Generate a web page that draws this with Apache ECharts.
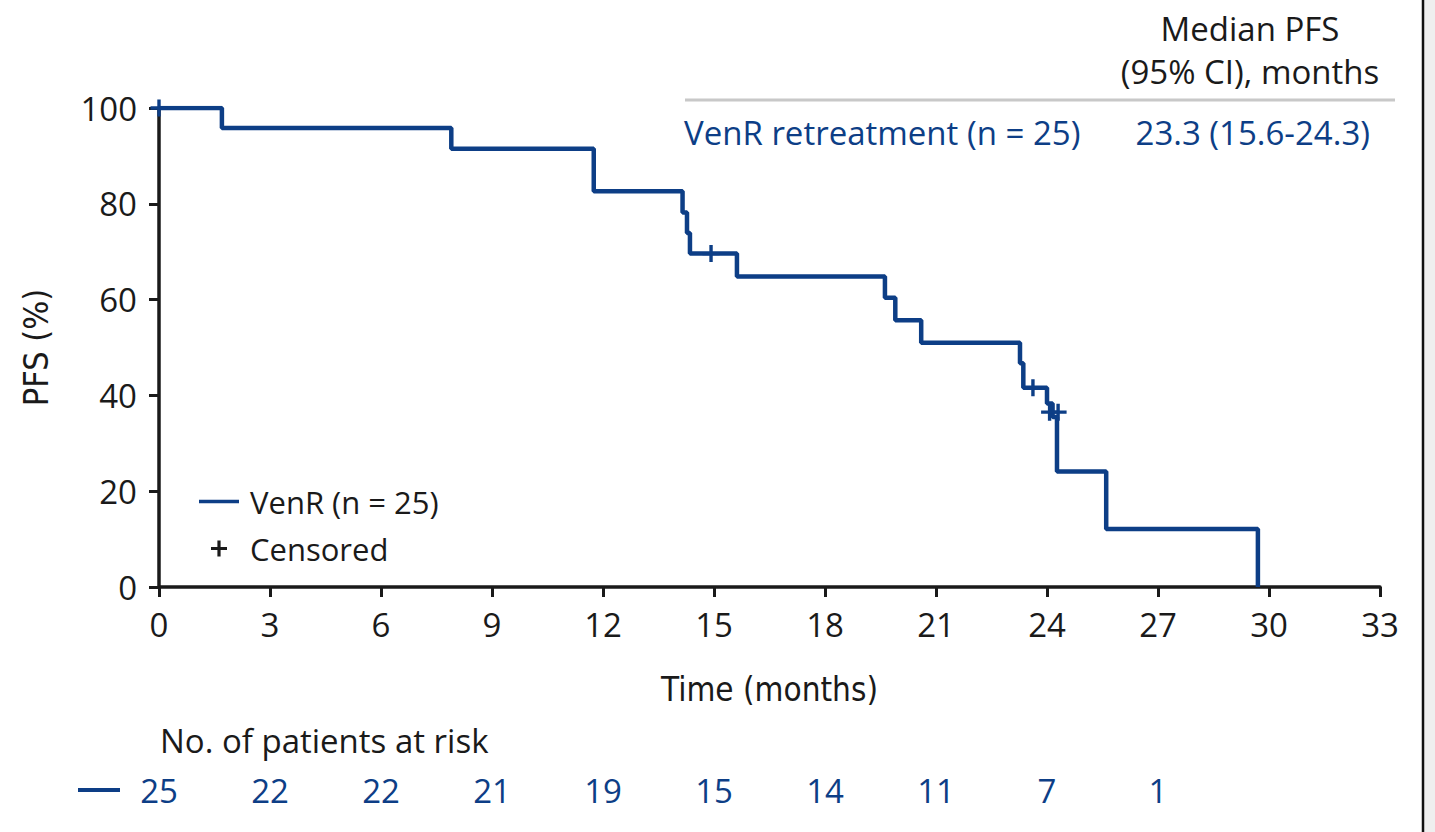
<!DOCTYPE html>
<html>
<head>
<meta charset="utf-8">
<script src="https://cdn.jsdelivr.net/npm/echarts@6/dist/echarts.min.js"></script>
<style>
  html, body { margin: 0; padding: 0; background: #fff; }
  #chart { width: 1435px; height: 832px; }
</style>
</head>
<body>
<div id="chart"></div>
<script>
// KM curve (months, % PFS after each drop)
var kmTimes = [0, 1.7, 7.9, 11.75, 14.15, 14.27, 14.35, 15.62, 19.62, 19.9, 20.6, 23.27, 23.36, 24.0, 24.15, 24.27, 25.6, 29.7];
var kmSurv  = [100, 95.8, 91.5, 82.6, 78.2, 73.9, 69.6, 64.8, 60.4, 55.7, 51.0, 46.7, 41.6, 38.3, 35.5, 24.1, 12.1, 0];
// censor marks
var censorTimes = [0, 14.92, 23.62, 24.07, 24.3];
var censorSurv  = [100, 69.6, 41.6, 36.5, 36.5];
// x ticks and patients at risk under them
var xTicks = [0, 3, 6, 9, 12, 15, 18, 21, 24, 27, 30, 33];
var atRisk = [25, 22, 22, 21, 19, 15, 14, 11, 7, 1];

var blue = '#0d3e86';
var ink = '#1a1a1a';
var mainFont = '"Open Sans", "Noto Sans", sans-serif';
var narrowFont = '"Liberation Sans Narrow", "DejaVu Sans Condensed", sans-serif';
var fs = 33;

var curve = kmTimes.map(function (t, i) { return [t, kmSurv[i]]; });
var censors = censorTimes.map(function (t, i) { return [t, censorSurv[i]]; });
var plus = 'path://M4,0H6V4H10V6H6V10H4V6H0V4H4Z';

var chart = echarts.init(document.getElementById('chart'), null, { renderer: 'svg' });

var option = {
    backgroundColor: '#fff',
    animation: false,
    grid: [
        { left: 159, right: 55, top: 108, bottom: 245 },
        { left: 159, right: 55, top: 771, height: 1 }
    ],
    legend: {
        left: 194,
        top: 481,
        orient: 'vertical',
        itemWidth: 40,
        itemHeight: 16,
        itemGap: 16,
        textStyle: { fontSize: 31, color: ink, fontFamily: mainFont, padding: [0, 0, 0, 6] },
        data: [
            { name: 'VenR (n = 25)', icon: 'path://M0,0H40V3.5H0Z' },
            { name: 'Censored', icon: plus, itemStyle: { color: ink, opacity: 1 } }
        ]
    },
    xAxis: [{
        gridIndex: 0,
        type: 'value',
        min: 0,
        max: 33,
        interval: 3,
        name: 'Time (months)',
        nameLocation: 'middle',
        nameGap: 86,
        nameTextStyle: { fontSize: 33, color: ink, fontFamily: narrowFont },
        splitLine: { show: false },
        axisLine: { lineStyle: { color: ink, width: 3.5 } },
        axisTick: { length: 10, lineStyle: { color: ink, width: 3 } },
        axisLabel: { fontSize: fs, color: ink, margin: 21, fontFamily: mainFont }
    }, {
        gridIndex: 1,
        type: 'value',
        min: 0,
        max: 33,
        interval: 3,
        splitLine: { show: false },
        axisLine: { show: false },
        axisTick: { show: false },
        axisLabel: {
            fontSize: fs, color: blue, margin: 2, fontFamily: mainFont,
            formatter: function (v) {
                var i = xTicks.indexOf(v);
                return atRisk[i] !== undefined ? String(atRisk[i]) : '';
            }
        }
    }],
    yAxis: [{
        gridIndex: 0,
        type: 'value',
        min: 0,
        max: 100,
        interval: 20,
        name: 'PFS (%)',
        nameLocation: 'middle',
        nameGap: 106,
        nameTextStyle: { fontSize: 34, color: ink, fontFamily: narrowFont },
        splitLine: { show: false },
        axisLine: { show: true, lineStyle: { color: ink, width: 3.5 } },
        axisTick: { show: true, length: 10, lineStyle: { color: ink, width: 3 } },
        axisLabel: { fontSize: fs, color: ink, margin: 22, fontFamily: mainFont }
    }, {
        gridIndex: 1,
        type: 'value',
        show: false
    }],
    series: [{
        name: 'VenR (n = 25)',
        type: 'line',
        step: 'end',
        xAxisIndex: 0,
        yAxisIndex: 0,
        data: curve,
        showSymbol: false,
        lineStyle: { color: blue, width: 4.5 },
        itemStyle: { color: blue },
        z: 3
    }, {
        name: 'Censored',
        type: 'scatter',
        xAxisIndex: 0,
        yAxisIndex: 0,
        data: censors,
        symbol: plus,
        symbolSize: 17,
        itemStyle: { color: blue, opacity: 1 },
        z: 4
    }],
    graphic: [
        // right frame edge
        { type: 'rect', shape: { x: 1424, y: 0, width: 11, height: 832 }, style: { fill: '#efefef' }, silent: true },
        { type: 'line', shape: { x1: 1423, y1: 0, x2: 1423, y2: 832 }, style: { stroke: '#111', lineWidth: 2.5 }, silent: true },
        // median PFS table
        { type: 'text', x: 1250, y: 28, style: { text: 'Median PFS', fontSize: fs, fill: ink, fontFamily: mainFont, textAlign: 'center', textVerticalAlign: 'middle' } },
        { type: 'text', x: 1250, y: 71, style: { text: '(95% CI), months', fontSize: fs, fill: ink, fontFamily: mainFont, textAlign: 'center', textVerticalAlign: 'middle' } },
        { type: 'line', shape: { x1: 685, y1: 100, x2: 1395, y2: 100 }, style: { stroke: '#c8c8c8', lineWidth: 3 } },
        { type: 'text', x: 684, y: 132, style: { text: 'VenR retreatment (n = 25)', fontSize: fs, fill: blue, fontFamily: mainFont, textAlign: 'left', textVerticalAlign: 'middle' } },
        { type: 'text', x: 1370, y: 132, style: { text: '23.3 (15.6-24.3)', fontSize: fs, fill: blue, fontFamily: mainFont, textAlign: 'right', textVerticalAlign: 'middle' } },
        // patients at risk
        { type: 'text', x: 160, y: 740, style: { text: 'No. of patients at risk', fontSize: fs, fill: ink, fontFamily: mainFont, textAlign: 'left', textVerticalAlign: 'middle' } },
        { type: 'line', shape: { x1: 78, y1: 790, x2: 120, y2: 790 }, style: { stroke: blue, lineWidth: 4 } }
    ]
};

chart.setOption(option);
window.addEventListener('resize', function () { chart.resize(); });
</script>
</body>
</html>
